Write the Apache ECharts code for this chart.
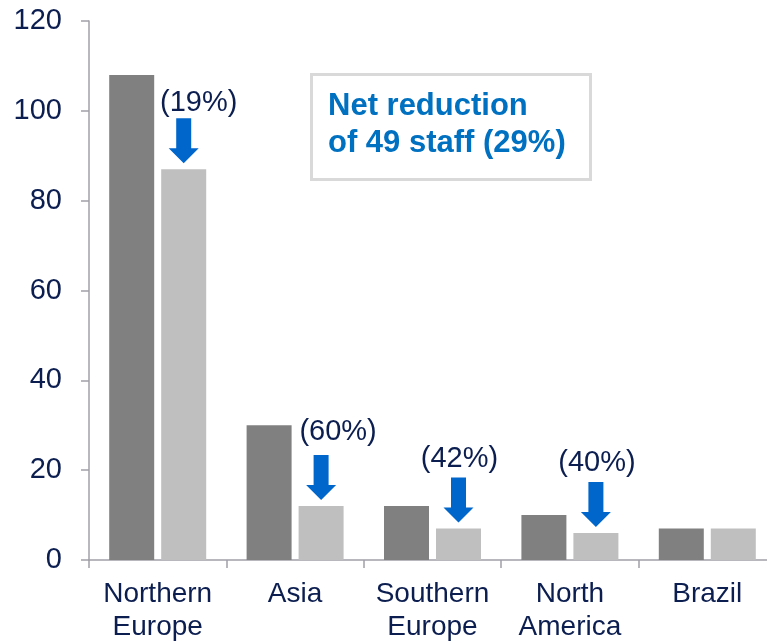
<!DOCTYPE html>
<html>
<head>
<meta charset="utf-8">
<script src="https://cdn.jsdelivr.net/npm/echarts@6/dist/echarts.min.js"></script>
<style>
html,body{margin:0;padding:0;background:#fff;}
#chart{width:767px;height:643px;}
</style>
</head>
<body>
<div id="chart"></div>
<script>
var categories = ['Northern\nEurope', 'Asia', 'Southern\nEurope', 'North\nAmerica', 'Brazil'];
var staffBefore = [108, 30, 12, 10, 7];
var staffAfter = [87, 12, 7, 6, 7];
var reductionLabels = ['(19%)', '(60%)', '(42%)', '(40%)'];
var yTicks = [0, 20, 40, 60, 80, 100, 120];
var boxText = 'Net reduction\nof 49 staff (29%)';

// style-only offsets for the reduction labels (px)
var labelDx = [15, 17, 1, 1];
var labelDy = [-15, -23, -19, -19];

var TEXT = '#0c1e50';
var FONT = '"Liberation Sans", Arial, sans-serif';
var BAR_W = 45, BAR_GAP = 7;

var arrowData = reductionLabels.map(function (l, i) { return [i, staffAfter[i]]; });

var chart = echarts.init(document.getElementById('chart'));
chart.setOption({
  animation: false,
  backgroundColor: '#ffffff',
  grid: { left: 89, right: -9, top: 21, bottom: 83, containLabel: false, outerBoundsMode: 'none' },
  xAxis: {
    type: 'category',
    data: categories,
    boundaryGap: true,
    axisLine: { lineStyle: { color: '#a0a0a8', width: 1.5 } },
    axisTick: { show: true, length: 8, lineStyle: { color: '#a0a0a8', width: 1.5 } },
    axisLabel: { color: TEXT, fontFamily: FONT, fontSize: 28, lineHeight: 33, margin: 18, interval: 0 }
  },
  yAxis: {
    type: 'value',
    min: 0, max: 120, interval: 20,
    axisLine: { show: true, lineStyle: { color: '#a0a0a8', width: 1.5 } },
    axisTick: { show: true, length: 8, lineStyle: { color: '#a0a0a8', width: 1.5 } },
    splitLine: { show: false },
    axisLabel: {
      color: TEXT, fontFamily: FONT, fontSize: 29, margin: 27,
      formatter: function (v) { return yTicks.indexOf(v) >= 0 ? String(v) : ''; }
    }
  },
  series: [
    {
      type: 'bar', data: staffBefore, barWidth: BAR_W, barGap: (BAR_GAP / BAR_W * 100) + '%',
      itemStyle: { color: '#808080' }
    },
    {
      type: 'bar', data: staffAfter, barWidth: BAR_W,
      itemStyle: { color: '#bfbfbf' }
    },
    {
      type: 'custom',
      data: arrowData,
      z: 5,
      renderItem: function (params, api) {
        var i = params.dataIndex;
        var p = api.coord([api.value(0), api.value(1)]);
        var cx = p[0] + BAR_GAP / 2 + BAR_W / 2;
        var bottom = p[1] - 6, top = bottom - 45;
        var sw = 7.5, hw = 15, hh = 15;
        return {
          type: 'group',
          children: [
            {
              type: 'polygon',
              shape: { points: [[cx - sw, top], [cx + sw, top], [cx + sw, bottom - hh], [cx + hw, bottom - hh], [cx, bottom], [cx - hw, bottom - hh], [cx - sw, bottom - hh]] },
              style: { fill: '#0066cc' }
            },
            {
              type: 'text',
              style: {
                text: reductionLabels[i], x: cx + labelDx[i], y: top + labelDy[i],
                align: 'center', verticalAlign: 'middle',
                font: '29px ' + FONT, fill: TEXT
              }
            }
          ]
        };
      }
    }
  ],
  graphic: [
    {
      type: 'rect', left: 310, top: 73,
      shape: { width: 279, height: 105 },
      style: { fill: '#ffffff', stroke: '#d9d9d9', lineWidth: 3 }
    },
    {
      type: 'text', left: 328, top: 88,
      style: { text: boxText, font: 'bold 31px ' + FONT, fill: '#0070c0', lineHeight: 37 }
    }
  ]
});
</script>
</body>
</html>
